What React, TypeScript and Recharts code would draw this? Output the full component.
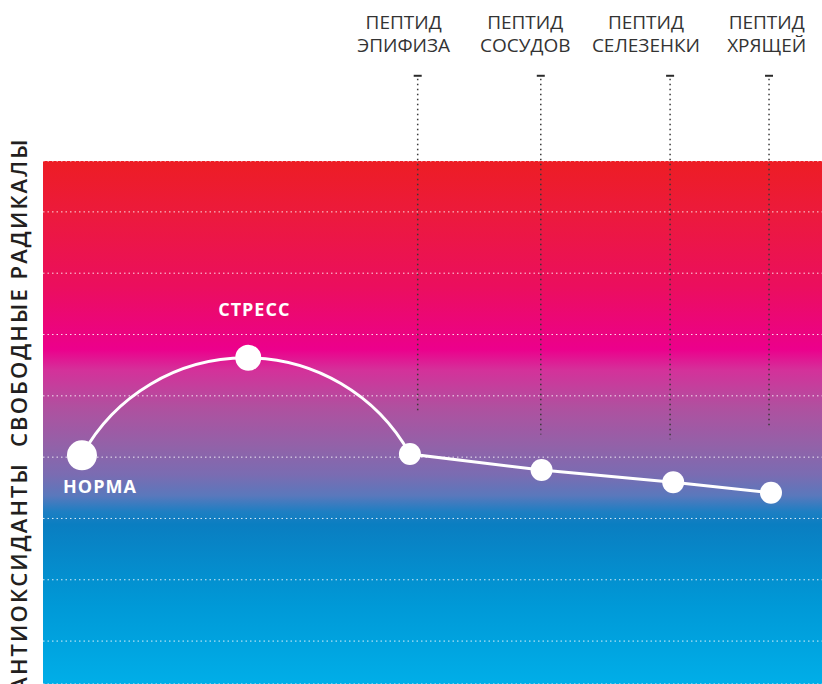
import React from 'react';
import { LineChart, Line, XAxis, YAxis, CartesianGrid, ReferenceLine, ReferenceDot, LabelList, Customized } from 'recharts';

// stages of the curve (x in % of chart width, y in grid units, 0 = norm)
const stageX = [5.0, 26.35, 47.1, 64.0, 80.9, 93.45];
const stageY = [0.03, 1.62, 0.05, -0.21, -0.41, -0.58];
const stageNames = ['НОРМА', 'СТРЕСС', '', '', '', ''];

const peptideTop = ['ПЕПТИД', 'ПЕПТИД', 'ПЕПТИД', 'ПЕПТИД'];
const peptideBottom = ['ЭПИФИЗА', 'СОСУДОВ', 'СЕЛЕЗЕНКИ', 'ХРЯЩЕЙ'];
const peptideLabelX = [46.3, 61.9, 77.4, 92.9];
const peptideLineX = [48.1, 63.9, 80.5, 93.2];
const peptideLineEnd = [0.72, 0.37, 0.29, 0.47];
const peptideLineStart = 6.22;
const peptideLabelY = 6.98;

const yTicks = [-3, -2, -1, 0, 1, 2, 3, 4];

// styling
const dotRadius = [15, 13, 11, 11, 11, 11];
const labelOffset = [
  { dx: 18, dy: 38 },
  { dx: 6, dy: -42 },
];

const data = stageX.map((x, i) => ({ x, y: stageY[i], name: stageNames[i] }));

const TAU = Math.PI * 2;

// circle arc through the first three points, straight segments after
const arcThenLine = (context: any) => {
  let pts: number[][] = [];
  return {
    areaStart() {},
    areaEnd() {},
    lineStart() {
      pts = [];
    },
    point(x: number, y: number) {
      pts.push([+x, +y]);
    },
    lineEnd() {
      if (!pts.length) return;
      context.moveTo(pts[0][0], pts[0][1]);
      let i = 1;
      if (pts.length >= 3) {
        const [a, b, c] = pts;
        const d = 2 * (a[0] * (b[1] - c[1]) + b[0] * (c[1] - a[1]) + c[0] * (a[1] - b[1]));
        if (Math.abs(d) > 1e-9) {
          const a2 = a[0] * a[0] + a[1] * a[1];
          const b2 = b[0] * b[0] + b[1] * b[1];
          const c2 = c[0] * c[0] + c[1] * c[1];
          const ux = (a2 * (b[1] - c[1]) + b2 * (c[1] - a[1]) + c2 * (a[1] - b[1])) / d;
          const uy = (a2 * (c[0] - b[0]) + b2 * (a[0] - c[0]) + c2 * (b[0] - a[0])) / d;
          const r = Math.hypot(a[0] - ux, a[1] - uy);
          const angA = Math.atan2(a[1] - uy, a[0] - ux);
          const angB = Math.atan2(b[1] - uy, b[0] - ux);
          const angC = Math.atan2(c[1] - uy, c[0] - ux);
          const norm = (t: number) => ((t % TAU) + TAU) % TAU;
          const ccw = norm(angB - angA) > norm(angC - angA);
          context.arc(ux, uy, r, angA, angC, ccw);
          i = 3;
        }
      }
      for (; i < pts.length; i++) context.lineTo(pts[i][0], pts[i][1]);
    },
  };
};

const renderDot = (props: any) => {
  const { cx, cy, index } = props;
  return <circle key={`dot-${index}`} cx={cx} cy={cy} r={dotRadius[index] ?? 11} fill="#fff" />;
};

const renderStageLabel = (props: any) => {
  const { x, y, value, index } = props;
  if (!value) return null;
  const off = labelOffset[index] || { dx: 0, dy: 0 };
  return (
    <text
      x={x + off.dx}
      y={y + off.dy}
      textAnchor="middle"
      fill="#fff"
      fontFamily="'Open Sans', sans-serif"
      fontWeight={700}
      fontSize={18}
      letterSpacing={1}
    >
      {value}
    </text>
  );
};

const renderPeptideLine = (props: any) => {
  const { x1, y1, x2, y2 } = props;
  const top = Math.min(y1, y2);
  const bottom = Math.max(y1, y2);
  return (
    <g>
      <line x1={x1} x2={x2} y1={top + 3} y2={bottom} stroke="#3a3a3a" strokeWidth={1.5} strokeDasharray="1.5 3.5" />
      <line x1={x1 - 4} x2={x1 + 4} y1={top} y2={top} stroke="#2a2a2a" strokeWidth={2} />
    </g>
  );
};

const renderPeptideLabel = (i: number) => (p: any) => (
  <g fill="#333" fontFamily="'Open Sans', sans-serif" fontSize={19} textAnchor="middle">
    <text x={p.cx} y={p.cy}>
      {peptideTop[i]}
    </text>
    <text x={p.cx} y={p.cy + 23}>
      {peptideBottom[i]}
    </text>
  </g>
);

const AxisTitles = () => (
  <g fontFamily="'Open Sans', sans-serif" fontWeight={600} fontSize={22} fill="#231f20" letterSpacing={2.1}>
    <text transform="translate(27,447) rotate(-90)" textAnchor="start">
      СВОБОДНЫЕ РАДИКАЛЫ
    </text>
    <text transform="translate(27,462) rotate(-90)" textAnchor="end">
      АНТИОКСИДАНТЫ
    </text>
  </g>
);

export default function App() {
  return (
    <div style={{ width: 822, height: 684 }}>
      <style>{`body{margin:0}`}</style>
      <LineChart width={822} height={684} data={data} margin={{ top: 161, right: 0, bottom: 0, left: 43 }}>
        <defs>
          <linearGradient id="bgGrad" x1="0" y1="0" x2="0" y2="1">
            <stop offset="0%" stopColor="#ed1d24" />
            <stop offset="10%" stopColor="#ec1a3c" />
            <stop offset="24%" stopColor="#eb0e5e" />
            <stop offset="36%" stopColor="#ec008c" />
            <stop offset="40%" stopColor="#d4319a" />
            <stop offset="47%" stopColor="#b0509f" />
            <stop offset="55%" stopColor="#9063a9" />
            <stop offset="60%" stopColor="#7a6cb2" />
            <stop offset="64%" stopColor="#5a78bc" />
            <stop offset="67%" stopColor="#1e7fc3" />
            <stop offset="69.5%" stopColor="#0a7ec1" />
            <stop offset="85%" stopColor="#0099d7" />
            <stop offset="100%" stopColor="#00aee8" />
          </linearGradient>
        </defs>
        <CartesianGrid
          vertical={false}
          stroke="#ffffff"
          strokeOpacity={0.85}
          strokeDasharray="1.5 3"
          fill="url(#bgGrad)"
          fillOpacity={1}
        />
        <XAxis type="number" dataKey="x" domain={[0, 100]} allowDataOverflow hide />
        <YAxis type="number" domain={[-3.7, 4.83]} ticks={yTicks} allowDataOverflow hide />
        {peptideLineX.map((lx, i) => (
          <ReferenceLine
            key={`pl-${i}`}
            segment={[
              { x: lx, y: peptideLineStart },
              { x: lx, y: peptideLineEnd[i] },
            ]}
            ifOverflow="visible"
            shape={renderPeptideLine}
          />
        ))}
        {peptideLabelX.map((lx, i) => (
          <ReferenceDot
            key={`plab-${i}`}
            x={lx}
            y={peptideLabelY}
            r={0}
            ifOverflow="visible"
            shape={renderPeptideLabel(i)}
          />
        ))}
        <Line
          dataKey="y"
          type={arcThenLine as any}
          stroke="#fff"
          strokeWidth={3}
          dot={renderDot}
          activeDot={false}
          isAnimationActive={false}
        >
          <LabelList dataKey="name" content={renderStageLabel} />
        </Line>
        <Customized component={AxisTitles} />
      </LineChart>
    </div>
  );
}
